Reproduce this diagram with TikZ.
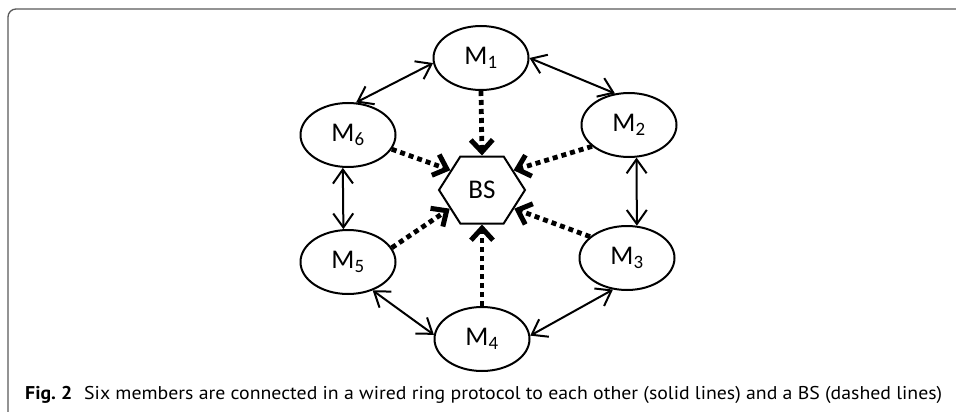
\documentclass[tikz,border=0pt]{standalone}
\usepackage{fontspec}
\setmainfont{Carlito}
\newfontfamily\capfont{PT Sans}
\usetikzlibrary{arrows.meta,shapes.geometric,shapes.symbols}

\begin{document}
\begin{tikzpicture}[x=1pt, y=-1pt,
  member/.style={draw, ellipse, line width=2pt, minimum width=95pt, minimum height=64pt,
    inner sep=0pt, font=\fontsize{27}{30}\selectfont},
  basestation/.style={draw, signal, signal to=west and east, signal pointer angle=115,
    line width=2pt, minimum width=86pt, minimum height=67pt, inner sep=0pt,
    font=\fontsize{27}{30}\selectfont},
  ring/.style={line width=2pt, {Straight Barb[length=14pt,width=20pt]}-{Straight Barb[length=14pt,width=20pt]}},
  report/.style={line width=4.8pt, dash pattern=on 5pt off 4pt,
    -{Straight Barb[length=12pt,width=22pt,line width=5pt]}}]
\useasboundingbox (0,0) rectangle (956,412);
\draw [black!65, line width=1.3pt, rounded corners=8pt] (8,412) |- (956,9);
% base station and the six members
\node [basestation] (bs) at (482,190) {BS};
\node [member] (m1) at (481,58)  {M\textsubscript{1}};
\node [member] (m2) at (629,125) {M\textsubscript{2}};
\node [member] (m3) at (627,258) {M\textsubscript{3}};
\node [member] (m4) at (482,339) {M\textsubscript{4}};
\node [member] (m5) at (348,262) {M\textsubscript{5}};
\node [member] (m6) at (348,135) {M\textsubscript{6}};
% wired ring
\draw [ring] (m1.186) -- (m6.76);
\draw [ring] (m1.0)   -- (m2.114);
\draw [ring] (m6.261) -- (m5.98);
\draw [ring] (m2.283) -- (m3.73);
\draw [ring] (m5.311) -- (m4.175);
\draw [ring] (m3.246) -- (m4.4);
% links to the BS
\draw [report] (m1.south) -- (bs.north);
\draw [report] (m6.342)   -- (bs.148);
\draw [report] (m2.210)   -- (bs.32);
\draw [report] (m5.18)    -- (bs.210);
\draw [report] (m3.150)   -- (bs.330);
\draw [report] (m4.north) -- (bs.south);
\node [anchor=base west, inner sep=0pt, font=\capfont\fontsize{18.5}{20}\selectfont] (caption) at (25,399)
  {\resizebox{917pt}{\height}{\textbf{Fig.~2}\hspace{0.6em}Six members are connected in a wired ring protocol to each other (solid lines) and a BS (dashed lines)}};
\end{tikzpicture}
\end{document}
